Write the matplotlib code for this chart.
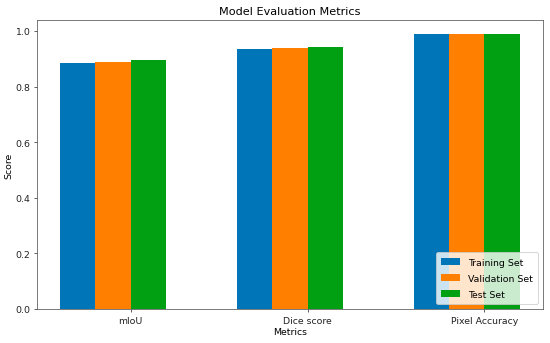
import numpy as np
import matplotlib
matplotlib.use("Agg")
import matplotlib.pyplot as plt

metrics = ["mIoU", "Dice score", "Pixel Accuracy"]
train_vals = [0.883, 0.935, 0.990]
val_vals = [0.887, 0.937, 0.990]
test_vals = [0.896, 0.941, 0.990]
series_names = ["Training Set", "Validation Set", "Test Set"]
colors = ["#0076B8", "#FF7F00", "#00A012"]

plt.rcParams["font.size"] = 9.8
fig = plt.figure(figsize=(8, 5.0036), dpi=68.75)
ax = fig.add_axes([0.067, 0.099, 0.92, 0.84])
x = np.arange(len(metrics))
w = 0.2
ax.bar(x, train_vals, w, label=series_names[0], color=colors[0])
ax.bar(x + w, val_vals, w, label=series_names[1], color=colors[1])
ax.bar(x + 2 * w, test_vals, w, label=series_names[2], color=colors[2])
ax.set_xticks(x + 1.5 * w)
ax.set_xticklabels(metrics)
ax.set_xlabel("Metrics", labelpad=3)
ax.set_ylabel("Score", labelpad=2)
ax.set_title("Model Evaluation Metrics", fontsize=11.8, pad=6)
for s in ax.spines.values():
    s.set_edgecolor("#555555")
ax.tick_params(colors="#333333", labelcolor="#222222")
ax.legend(loc="lower right", labelspacing=0.75, borderpad=0.6)
fig.savefig("out.png", dpi=68.75)
